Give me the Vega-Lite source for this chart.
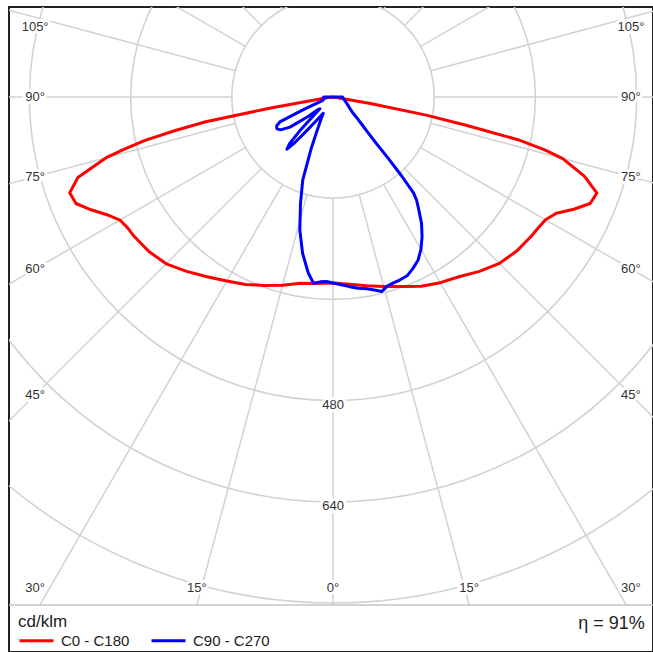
{
  "$schema": "https://vega.github.io/schema/vega-lite/v6.json",
  "width": 644,
  "height": 645,
  "autosize": {"type": "none"},
  "padding": {"left": 9, "top": 7, "right": 0, "bottom": 0},
  "background": "white",
  "config": {
    "view": {"stroke": "#222222", "strokeWidth": 2},
    "font": "Liberation Sans"
  },
  "datasets": {
    "rings": [
      {"cd": 160, "label": ""},
      {"cd": 320, "label": ""},
      {"cd": 480, "label": "480"},
      {"cd": 640, "label": "640"},
      {"cd": 800, "label": ""}
    ],
    "rays": [
      {"gamma": -165}, {"gamma": -150}, {"gamma": -135}, {"gamma": -120}, {"gamma": -105}, {"gamma": -90},
      {"gamma": -75}, {"gamma": -60}, {"gamma": -45}, {"gamma": -30}, {"gamma": -15}, {"gamma": 0},
      {"gamma": 15}, {"gamma": 30}, {"gamma": 45}, {"gamma": 60}, {"gamma": 75}, {"gamma": 90},
      {"gamma": 105}, {"gamma": 120}, {"gamma": 135}, {"gamma": 150}, {"gamma": 165}, {"gamma": 180}
    ],
    "angleLabels": [
      {"gamma": -105, "label": "105°"}, {"gamma": -90, "label": "90°"}, {"gamma": -75, "label": "75°"},
      {"gamma": -60, "label": "60°"}, {"gamma": -45, "label": "45°"}, {"gamma": -30, "label": "30°"},
      {"gamma": -15, "label": "15°"}, {"gamma": 0, "label": "0°"}, {"gamma": 15, "label": "15°"},
      {"gamma": 30, "label": "30°"}, {"gamma": 45, "label": "45°"}, {"gamma": 60, "label": "60°"},
      {"gamma": 75, "label": "75°"}, {"gamma": 90, "label": "90°"}, {"gamma": 105, "label": "105°"}
    ],
    "curves": [
      {"plane": "C0 - C180", "gamma": -180, "cd": 0},
      {"plane": "C0 - C180", "gamma": -90, "cd": 0},
      {"plane": "C0 - C180", "gamma": -85, "cd": 0},
      {"plane": "C0 - C180", "gamma": -82.5, "cd": 10},
      {"plane": "C0 - C180", "gamma": -80, "cd": 100},
      {"plane": "C0 - C180", "gamma": -79, "cd": 205},
      {"plane": "C0 - C180", "gamma": -78, "cd": 255},
      {"plane": "C0 - C180", "gamma": -77, "cd": 305},
      {"plane": "C0 - C180", "gamma": -76, "cd": 340},
      {"plane": "C0 - C180", "gamma": -75, "cd": 372},
      {"plane": "C0 - C180", "gamma": -72.5, "cd": 423},
      {"plane": "C0 - C180", "gamma": -70, "cd": 443},
      {"plane": "C0 - C180", "gamma": -67.5, "cd": 440},
      {"plane": "C0 - C180", "gamma": -65, "cd": 422},
      {"plane": "C0 - C180", "gamma": -62.5, "cd": 403},
      {"plane": "C0 - C180", "gamma": -60, "cd": 389},
      {"plane": "C0 - C180", "gamma": -57.5, "cd": 385},
      {"plane": "C0 - C180", "gamma": -55, "cd": 384},
      {"plane": "C0 - C180", "gamma": -50, "cd": 380},
      {"plane": "C0 - C180", "gamma": -45, "cd": 373},
      {"plane": "C0 - C180", "gamma": -40, "cd": 360},
      {"plane": "C0 - C180", "gamma": -35, "cd": 347},
      {"plane": "C0 - C180", "gamma": -30, "cd": 336},
      {"plane": "C0 - C180", "gamma": -25, "cd": 327},
      {"plane": "C0 - C180", "gamma": -20, "cd": 317},
      {"plane": "C0 - C180", "gamma": -15, "cd": 308},
      {"plane": "C0 - C180", "gamma": -10, "cd": 299},
      {"plane": "C0 - C180", "gamma": -5, "cd": 296},
      {"plane": "C0 - C180", "gamma": 0, "cd": 294},
      {"plane": "C0 - C180", "gamma": 5, "cd": 297},
      {"plane": "C0 - C180", "gamma": 10, "cd": 303},
      {"plane": "C0 - C180", "gamma": 15, "cd": 310},
      {"plane": "C0 - C180", "gamma": 20, "cd": 319},
      {"plane": "C0 - C180", "gamma": 25, "cd": 330},
      {"plane": "C0 - C180", "gamma": 30, "cd": 339},
      {"plane": "C0 - C180", "gamma": 35, "cd": 347},
      {"plane": "C0 - C180", "gamma": 40, "cd": 360},
      {"plane": "C0 - C180", "gamma": 45, "cd": 372},
      {"plane": "C0 - C180", "gamma": 50, "cd": 379},
      {"plane": "C0 - C180", "gamma": 55, "cd": 383},
      {"plane": "C0 - C180", "gamma": 57.5, "cd": 385},
      {"plane": "C0 - C180", "gamma": 60, "cd": 388},
      {"plane": "C0 - C180", "gamma": 62.5, "cd": 398},
      {"plane": "C0 - C180", "gamma": 65, "cd": 420},
      {"plane": "C0 - C180", "gamma": 67.5, "cd": 440},
      {"plane": "C0 - C180", "gamma": 70, "cd": 444},
      {"plane": "C0 - C180", "gamma": 72.5, "cd": 417},
      {"plane": "C0 - C180", "gamma": 75, "cd": 376},
      {"plane": "C0 - C180", "gamma": 76, "cd": 345},
      {"plane": "C0 - C180", "gamma": 77, "cd": 300},
      {"plane": "C0 - C180", "gamma": 78, "cd": 215},
      {"plane": "C0 - C180", "gamma": 79, "cd": 150},
      {"plane": "C0 - C180", "gamma": 80, "cd": 60},
      {"plane": "C0 - C180", "gamma": 82.5, "cd": 5},
      {"plane": "C0 - C180", "gamma": 85, "cd": 0},
      {"plane": "C0 - C180", "gamma": 90, "cd": 0},
      {"plane": "C0 - C180", "gamma": 180, "cd": 0},

      {"plane": "C90 - C270", "gamma": -180, "cd": 0},
      {"plane": "C90 - C270", "gamma": -90, "cd": 15},
      {"plane": "C90 - C270", "gamma": -80, "cd": 14},
      {"plane": "C90 - C270", "gamma": -72, "cd": 17},
      {"plane": "C90 - C270", "gamma": -69, "cd": 28},
      {"plane": "C90 - C270", "gamma": -67, "cd": 50},
      {"plane": "C90 - C270", "gamma": -65, "cd": 92},
      {"plane": "C90 - C270", "gamma": -63, "cd": 100},
      {"plane": "C90 - C270", "gamma": -60.5, "cd": 102},
      {"plane": "C90 - C270", "gamma": -58, "cd": 98},
      {"plane": "C90 - C270", "gamma": -55, "cd": 83},
      {"plane": "C90 - C270", "gamma": -52, "cd": 50},
      {"plane": "C90 - C270", "gamma": -50, "cd": 30},
      {"plane": "C90 - C270", "gamma": -48, "cd": 28},
      {"plane": "C90 - C270", "gamma": -46, "cd": 45},
      {"plane": "C90 - C270", "gamma": -44.5, "cd": 75},
      {"plane": "C90 - C270", "gamma": -43, "cd": 100},
      {"plane": "C90 - C270", "gamma": -41.5, "cd": 110},
      {"plane": "C90 - C270", "gamma": -40, "cd": 95},
      {"plane": "C90 - C270", "gamma": -38, "cd": 68},
      {"plane": "C90 - C270", "gamma": -35, "cd": 45},
      {"plane": "C90 - C270", "gamma": -31, "cd": 30},
      {"plane": "C90 - C270", "gamma": -28, "cd": 42},
      {"plane": "C90 - C270", "gamma": -25, "cd": 62},
      {"plane": "C90 - C270", "gamma": -23, "cd": 88},
      {"plane": "C90 - C270", "gamma": -20, "cd": 140},
      {"plane": "C90 - C270", "gamma": -17, "cd": 176},
      {"plane": "C90 - C270", "gamma": -14, "cd": 217},
      {"plane": "C90 - C270", "gamma": -11, "cd": 252},
      {"plane": "C90 - C270", "gamma": -8, "cd": 281},
      {"plane": "C90 - C270", "gamma": -6, "cd": 296},
      {"plane": "C90 - C270", "gamma": -4, "cd": 293},
      {"plane": "C90 - C270", "gamma": -2, "cd": 292},
      {"plane": "C90 - C270", "gamma": 0, "cd": 294},
      {"plane": "C90 - C270", "gamma": 2.5, "cd": 297},
      {"plane": "C90 - C270", "gamma": 5, "cd": 301},
      {"plane": "C90 - C270", "gamma": 7.5, "cd": 305},
      {"plane": "C90 - C270", "gamma": 10, "cd": 308},
      {"plane": "C90 - C270", "gamma": 12.5, "cd": 313},
      {"plane": "C90 - C270", "gamma": 14, "cd": 317},
      {"plane": "C90 - C270", "gamma": 16, "cd": 311},
      {"plane": "C90 - C270", "gamma": 18, "cd": 309},
      {"plane": "C90 - C270", "gamma": 20, "cd": 308},
      {"plane": "C90 - C270", "gamma": 22.5, "cd": 306},
      {"plane": "C90 - C270", "gamma": 25, "cd": 299},
      {"plane": "C90 - C270", "gamma": 27.5, "cd": 291},
      {"plane": "C90 - C270", "gamma": 30, "cd": 278},
      {"plane": "C90 - C270", "gamma": 32.5, "cd": 262},
      {"plane": "C90 - C270", "gamma": 35, "cd": 244},
      {"plane": "C90 - C270", "gamma": 37.5, "cd": 222},
      {"plane": "C90 - C270", "gamma": 39, "cd": 210},
      {"plane": "C90 - C270", "gamma": 40, "cd": 198},
      {"plane": "C90 - C270", "gamma": 41, "cd": 165},
      {"plane": "C90 - C270", "gamma": 42, "cd": 130},
      {"plane": "C90 - C270", "gamma": 43, "cd": 100},
      {"plane": "C90 - C270", "gamma": 44.5, "cd": 78},
      {"plane": "C90 - C270", "gamma": 46, "cd": 66},
      {"plane": "C90 - C270", "gamma": 48.5, "cd": 52},
      {"plane": "C90 - C270", "gamma": 51, "cd": 41},
      {"plane": "C90 - C270", "gamma": 55, "cd": 33},
      {"plane": "C90 - C270", "gamma": 60, "cd": 28},
      {"plane": "C90 - C270", "gamma": 65, "cd": 24},
      {"plane": "C90 - C270", "gamma": 72, "cd": 20},
      {"plane": "C90 - C270", "gamma": 80, "cd": 17},
      {"plane": "C90 - C270", "gamma": 90, "cd": 15},
      {"plane": "C90 - C270", "gamma": 180, "cd": 0}
    ],
    "efficiency": [{"text": "η = 91%", "xpos": 493, "ypos": -833}]
  },
  "layer": [
    {
      "data": {"name": "rings"},
      "mark": {"type": "point", "shape": "circle", "filled": false, "color": "#d2d2d2", "strokeWidth": 1.6, "opacity": 1, "clip": true},
      "encoding": {
        "x": {"datum": 0, "type": "quantitative", "scale": {"domain": [-512.3, 505.9], "nice": false, "zero": false}, "axis": null},
        "y": {"datum": 0, "type": "quantitative", "scale": {"domain": [-877.5, 142.3], "nice": false, "zero": false}, "axis": null},
        "size": {"field": "cd", "type": "quantitative", "scale": {"type": "pow", "exponent": 2, "domain": [0, 800], "range": [0, 1024087]}, "legend": null}
      }
    },
    {
      "data": {"name": "rays"},
      "transform": [
        {"calculate": "datum.gamma*PI/180", "as": "a"},
        {"calculate": "cos(datum.a) > 0.05 ? min(1300, 803.2/cos(datum.a)) : 1300", "as": "r2"},
        {"calculate": "160*sin(datum.a)", "as": "x1"},
        {"calculate": "-160*cos(datum.a)", "as": "y1"},
        {"calculate": "datum.r2*sin(datum.a)", "as": "x2"},
        {"calculate": "-datum.r2*cos(datum.a)", "as": "y2"}
      ],
      "mark": {"type": "rule", "color": "#d2d2d2", "strokeWidth": 1.5, "clip": true},
      "encoding": {
        "x": {"field": "x1", "type": "quantitative", "scale": {"domain": [-512.3, 505.9], "nice": false, "zero": false}, "axis": null},
        "y": {"field": "y1", "type": "quantitative", "scale": {"domain": [-877.5, 142.3], "nice": false, "zero": false}, "axis": null},
        "x2": {"field": "x2"},
        "y2": {"field": "y2"}
      }
    },
    {
      "data": {"values": [{"sep": -803.2}]},
      "mark": {"type": "rule", "color": "#c4c4c4", "strokeWidth": 1.5},
      "encoding": {
        "y": {"field": "sep", "type": "quantitative", "scale": {"domain": [-877.5, 142.3], "nice": false, "zero": false}, "axis": null}
      }
    },
    {
      "data": {"name": "rings"},
      "transform": [
        {"filter": "datum.label != ''"},
        {"calculate": "-datum.cd", "as": "ly"},
        {"calculate": "0", "as": "lx"}
      ],
      "mark": {"type": "text", "fontSize": 13, "color": "white", "stroke": "white", "strokeWidth": 6, "dy": 4},
      "encoding": {
        "x": {"field": "lx", "type": "quantitative", "scale": {"domain": [-512.3, 505.9], "nice": false, "zero": false}, "axis": null},
        "y": {"field": "ly", "type": "quantitative", "scale": {"domain": [-877.5, 142.3], "nice": false, "zero": false}, "axis": null},
        "text": {"field": "label"}
      }
    },
    {
      "data": {"name": "rings"},
      "transform": [
        {"filter": "datum.label != ''"},
        {"calculate": "-datum.cd", "as": "ly"},
        {"calculate": "0", "as": "lx"}
      ],
      "mark": {"type": "text", "fontSize": 13, "color": "#333333", "dy": 4},
      "encoding": {
        "x": {"field": "lx", "type": "quantitative", "scale": {"domain": [-512.3, 505.9], "nice": false, "zero": false}, "axis": null},
        "y": {"field": "ly", "type": "quantitative", "scale": {"domain": [-877.5, 142.3], "nice": false, "zero": false}, "axis": null},
        "text": {"field": "label"}
      }
    },
    {
      "data": {"name": "angleLabels"},
      "transform": [
        {"calculate": "datum.gamma*PI/180", "as": "a"},
        {"calculate": "abs(datum.gamma) < 20 ? 803.2*tan(datum.a) : (datum.gamma < 0 ? -471 : 471)", "as": "lx"},
        {"calculate": "abs(datum.gamma) < 20 ? -776.3 : clamp(-471*cos(datum.a)/abs(sin(datum.a)), -776.3, 110.7)", "as": "ly"}
      ],
      "mark": {"type": "text", "fontSize": 13, "color": "white", "stroke": "white", "strokeWidth": 6},
      "encoding": {
        "x": {"field": "lx", "type": "quantitative", "scale": {"domain": [-512.3, 505.9], "nice": false, "zero": false}, "axis": null},
        "y": {"field": "ly", "type": "quantitative", "scale": {"domain": [-877.5, 142.3], "nice": false, "zero": false}, "axis": null},
        "text": {"field": "label"}
      }
    },
    {
      "data": {"name": "angleLabels"},
      "transform": [
        {"calculate": "datum.gamma*PI/180", "as": "a"},
        {"calculate": "abs(datum.gamma) < 20 ? 803.2*tan(datum.a) : (datum.gamma < 0 ? -471 : 471)", "as": "lx"},
        {"calculate": "abs(datum.gamma) < 20 ? -776.3 : clamp(-471*cos(datum.a)/abs(sin(datum.a)), -776.3, 110.7)", "as": "ly"}
      ],
      "mark": {"type": "text", "fontSize": 13, "color": "#333333"},
      "encoding": {
        "x": {"field": "lx", "type": "quantitative", "scale": {"domain": [-512.3, 505.9], "nice": false, "zero": false}, "axis": null},
        "y": {"field": "ly", "type": "quantitative", "scale": {"domain": [-877.5, 142.3], "nice": false, "zero": false}, "axis": null},
        "text": {"field": "label"}
      }
    },
    {
      "data": {"name": "curves"},
      "transform": [
        {"calculate": "datum.cd*sin(datum.gamma*PI/180)", "as": "px"},
        {"calculate": "-datum.cd*cos(datum.gamma*PI/180)", "as": "py"}
      ],
      "mark": {"type": "line", "strokeWidth": 3, "clip": true, "strokeJoin": "round"},
      "encoding": {
        "x": {"field": "px", "type": "quantitative", "scale": {"domain": [-512.3, 505.9], "nice": false, "zero": false}, "axis": null},
        "y": {"field": "py", "type": "quantitative", "scale": {"domain": [-877.5, 142.3], "nice": false, "zero": false}, "axis": null},
        "order": {"field": "gamma", "type": "quantitative"},
        "color": {
          "field": "plane", "type": "nominal",
          "scale": {"domain": ["C0 - C180", "C90 - C270"], "range": ["#ff0000", "#0000ff"]},
          "legend": {
            "orient": "none", "legendX": 9, "legendY": 607, "direction": "horizontal",
            "title": "cd/klm", "titleFontSize": 17, "titleFontWeight": "normal", "titleColor": "#222222",
            "titlePadding": -9, "titleAnchor": "start",
            "labelFontSize": 15, "labelColor": "#222222", "labelOffset": 6,
            "symbolType": "stroke", "symbolSize": 1156, "symbolStrokeWidth": 3,
            "columnPadding": 15, "padding": 0
          }
        }
      }
    },
    {
      "data": {"name": "efficiency"},
      "mark": {"type": "text", "fontSize": 18, "color": "#222222", "align": "right", "baseline": "middle"},
      "encoding": {
        "x": {"field": "xpos", "type": "quantitative", "scale": {"domain": [-512.3, 505.9], "nice": false, "zero": false}, "axis": null},
        "y": {"field": "ypos", "type": "quantitative", "scale": {"domain": [-877.5, 142.3], "nice": false, "zero": false}, "axis": null},
        "text": {"field": "text"}
      }
    }
  ]
}
